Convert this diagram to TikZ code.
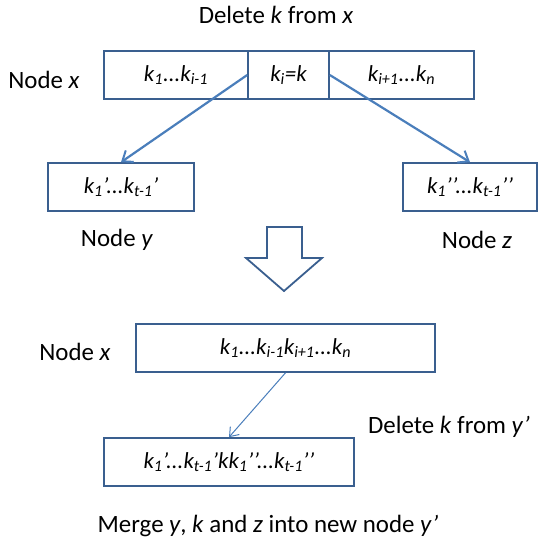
\documentclass[tikz,border=0pt]{standalone}
\usepackage{fontspec}
\setmainfont{Carlito}
\usetikzlibrary{positioning,arrows.meta}
\definecolor{KeyEdge}{HTML}{3A5F8F}
\definecolor{KeyLine}{HTML}{4A7EBB}
\newcommand{\kk}[1]{\textit{k}\textsubscript{\textit{#1}}}

\begin{document}
\begin{tikzpicture}[x=1bp, y=-1bp, font=\fontsize{25}{30}\selectfont,
  keybox/.style={draw=KeyEdge, line width=1.6bp, minimum height=48bp, inner sep=0pt, font=\fontsize{23}{28}\selectfont\itshape},
  link/.style={KeyLine, line width=2.2bp, -{Straight Barb[length=9bp, width=14bp, line width=2bp]}}]
  \useasboundingbox (0,0) rectangle (538,539);
  % before the merge
  \node (title) at (276,15) {Delete \textit{k} from \textit{x}};
  \node (xlab) at (44,80) {Node \textit{x}};
  \node[keybox, minimum width=144bp] (kleft) at (176,75) {\kk{1}...\kk{i-1}};
  \node[keybox, minimum width=81bp] (kmid) at (288.5,75) {\kk{i}=\textit{k}};
  \node[keybox, minimum width=145bp] (kright) at (401.5,75) {\kk{i+1}...\kk{n}};
  \node[keybox, minimum width=146bp] (ny) at (121,187) {\kk{1}’...\kk{t-1}’};
  \node[keybox, minimum width=134bp] (nz) at (470,187) {\kk{1}’’...\kk{t-1}’’};
  \node (ylab) at (117,240) {Node \textit{y}};
  \node (zlab) at (477,240) {Node \textit{z}};
  \draw[link] (kmid.west) -- (ny.north);
  \draw[link] (kmid.east) -- (nz.north);
  % block arrow
  \draw[KeyEdge, line width=1.8bp, fill=white] (267,227) -- (302,227) -- (302,258) -- (322,258)
    -- (284,291) -- (246,258) -- (267,258) -- cycle;
  % after the merge
  \node (xlab2) at (75,352) {Node \textit{x}};
  \node[keybox, minimum width=299bp] (xnew) at (285.5,348) {\kk{1}...\kk{i-1}\kk{i+1}...\kk{n}};
  \node[keybox, minimum width=250bp] (ynew) at (229,462) {\kk{1}’...\kk{t-1}’\textit{k}\kk{1}’’...\kk{t-1}’’};
  \draw[KeyLine, line width=1bp, -{Straight Barb[length=8bp, width=12bp, line width=1bp]}] (xnew.south) -- (ynew.north);
  \node (dlab) at (449,427) {Delete \textit{k} from \textit{y’}};
  \node (mlab) at (268,526) {Merge \textit{y}, \textit{k} and \textit{z} into new node \textit{y’}};
\end{tikzpicture}
\end{document}
